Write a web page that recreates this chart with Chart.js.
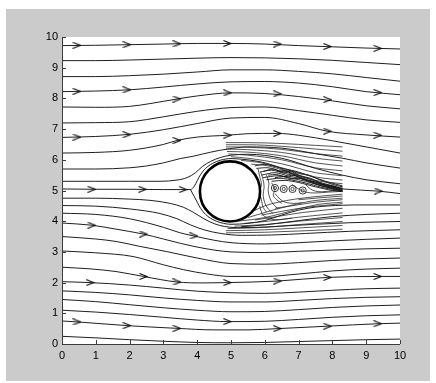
<!DOCTYPE html>
<html>
<head>
<meta charset="utf-8">
<script src="https://cdn.jsdelivr.net/npm/chart.js@4.4.1/dist/chart.umd.min.js"></script>
<style>
  html, body { margin: 0; padding: 0; background: #ffffff; }
  #panel { position: absolute; left: 6px; top: 9px; width: 424px; height: 372px; background: #cbcbcb; }
  #plot { position: absolute; left: 0; top: 0; }
</style>
</head>
<body>
<div id="panel"></div>
<canvas id="plot" width="436" height="383"></canvas>
<script>
// Axis ticks
const tickValues = [0, 1, 2, 3, 4, 5, 6, 7, 8, 9, 10];

// Cylinder (centre in data units, radius in x units)
const cylinderCenter = [4.97, 4.97];
const cylinderRadius = 0.89;

// Streamlines above the stagnation line, [x, y]
const L1 = [[0,9.72],[1,9.73],[2,9.75],[3,9.77],[4,9.79],[5,9.79],[6,9.77],[7,9.72],[8,9.68],[9,9.64],[10,9.61]];
const L2 = [[0,9.23],[1,9.23],[2,9.25],[3,9.28],[4,9.31],[5,9.33],[6,9.32],[7,9.29],[8,9.24],[9,9.17],[10,9.10]];
const L3 = [[0,8.71],[1,8.71],[2,8.74],[3,8.79],[4,8.86],[5,8.93],[6,8.93],[7,8.88],[8,8.80],[9,8.68],[10,8.56]];
const L4 = [[0,8.22],[1,8.24],[2,8.28],[3,8.37],[4,8.47],[5,8.54],[6,8.55],[7,8.50],[8,8.38],[9,8.22],[10,8.12]];
const L5 = [[0,7.72],[1,7.71],[2,7.74],[2.6,7.83],[3.4,7.98],[4,8.08],[5,8.18],[6,8.16],[7,8.06],[8,7.92],[9,7.76],[10,7.66]];
const L6 = [[0,7.20],[1,7.21],[2,7.24],[3,7.40],[4,7.58],[5,7.70],[6,7.72],[7,7.60],[8,7.45],[9,7.30],[10,7.22]];
const L7 = [[0,6.73],[1,6.76],[2,6.83],[3,6.98],[4,7.18],[5,7.36],[6,7.38],[7,7.18],[7.85,6.93],[9,6.81],[10,6.74]];
const L8 = [[0,6.22],[1,6.24],[2,6.31],[3,6.50],[3.4,6.63],[4,6.74],[4.89,6.80],[5.5,6.85],[6.37,6.86],[7,6.80],[8,6.62],[9,6.42],[10,6.22]];
const L9 = [[0,5.70],[1,5.70],[2,5.74],[2.5,5.80],[3,5.90],[3.5,6.04],[3.9,6.12],[4.4,6.25],[4.9,6.35],[5.5,6.42],[6.5,6.38],[7.5,6.20],[8.3,6.05],[9,5.90],[10,5.73]];
const L10 = [[0,5.30],[1,5.30],[2,5.30],[2.9,5.30],[3.4,5.34],[3.7,5.42],[3.95,5.58],[4.15,5.78],[4.4,5.95],[4.7,6.08],[5.0,6.15],[5.5,6.18],[6.5,6.05],[7.5,5.72],[8.3,5.50],[9,5.35],[10,5.22]];

// Stagnation streamline and its two branches round the cylinder
const stagnationUpper = [[0,5.05],[1,5.04],[2,5.04],[3,5.03],[3.5,5.03],[3.8,5.03],[3.92,5.15],[4.0,5.32],[4.1,5.52],[4.25,5.72],[4.45,5.88],[4.7,5.99],[5.0,6.04],[5.3,6.02],[5.8,5.95],[6.3,5.80],[6.8,5.55],[7.3,5.30],[7.8,5.12],[8.3,5.05],[9.36,4.98],[10,4.90]];
const stagnationLower = [[3.8,5.03],[3.92,4.79],[4.0,4.62],[4.1,4.42],[4.25,4.22],[4.45,4.06],[4.7,3.95],[5.0,3.90],[5.5,3.93],[6,4.02],[6.5,4.20],[7,4.36],[7.5,4.46],[8.3,4.52],[9,4.53],[10,4.53]];

// Streamlines below the stagnation line
const B1 = [[0,4.75],[1,4.75],[2,4.72],[2.6,4.68],[3.2,4.58],[3.6,4.45],[3.9,4.28],[4.2,4.08],[4.5,3.92],[4.8,3.83],[5.2,3.79],[5.8,3.80],[6.5,3.84],[7.5,3.90],[8.5,3.95],[10,3.99]];
const B2 = [[0,4.51],[1,4.49],[2,4.40],[2.9,4.25],[3.4,4.08],[3.8,3.88],[4.2,3.72],[4.7,3.60],[5.3,3.54],[6.2,3.55],[7.2,3.60],[8.5,3.67],[10,3.72]];
const B3 = [[0,4.26],[1,4.22],[2,4.08],[3,3.80],[3.5,3.62],[3.9,3.52],[4.5,3.38],[5,3.30],[6,3.26],[7,3.30],[8,3.36],[9,3.41],[10,3.45]];
const B4 = [[0,3.94],[0.88,3.87],[1.6,3.74],[2.41,3.58],[3,3.42],[3.5,3.28],[3.9,3.18],[4.5,3.06],[5,3.00],[6,2.98],[7,3.02],[8,3.06],[9,3.10],[10,3.12]];
const B5 = [[0,3.50],[1,3.42],[1.6,3.34],[2.3,3.18],[3.1,3.01],[4,2.80],[5,2.62],[6,2.60],[7,2.65],[8,2.72],[9,2.77],[10,2.80]];
const B6 = [[0,3.03],[1,2.97],[2.1,2.85],[3,2.58],[3.6,2.42],[4.3,2.28],[5,2.20],[6,2.20],[7,2.28],[8,2.38],[9,2.44],[10,2.47]];
const B7 = [[0,2.50],[0.8,2.45],[1.6,2.36],[2.41,2.20],[3.4,2.02],[4.2,1.99],[4.89,2.00],[6.37,2.05],[7.85,2.17],[9.34,2.20],[10,2.20]];
const B8 = [[0,2.03],[0.83,2.00],[2,1.92],[3,1.82],[4,1.72],[5,1.67],[6,1.65],[7,1.69],[8,1.75],[9,1.80],[10,1.82]];
const B9 = [[0,1.73],[1,1.68],[2,1.60],[3,1.50],[4,1.42],[5,1.37],[6,1.37],[7,1.42],[8,1.48],[9,1.52],[10,1.54]];
const B10 = [[0,1.45],[1,1.38],[2,1.28],[3,1.18],[4,1.10],[5,1.05],[6,1.06],[7,1.12],[8,1.19],[9,1.24],[10,1.27]];
const B11 = [[0,1.10],[1,1.04],[2,0.96],[3,0.87],[4,0.78],[4.89,0.73],[6,0.74],[7,0.80],[8,0.87],[9,0.92],[10,0.95]];
const B12 = [[0,0.75],[0.44,0.72],[1.92,0.60],[3.4,0.51],[4.5,0.46],[5.5,0.46],[6.37,0.50],[7.85,0.58],[9.34,0.66],[10,0.68]];
const B13 = [[0,0.25],[1,0.20],[2,0.14],[3,0.09],[4,0.05],[5,0.04],[6,0.05],[7,0.08],[8,0.11],[9,0.14],[10,0.16]];
const E1 = [[5.3,3.82],[6,3.88],[7,4.02],[8,4.15],[9,4.22],[10,4.26]];

// Wake field: upper sheet
const U1 = [[4.85,6.56],[5.5,6.56],[6.5,6.53],[7.5,6.47],[8.3,6.42]];
const U2 = [[4.85,6.49],[5.5,6.49],[6.5,6.44],[7.5,6.35],[8.3,6.28]];
const U3 = [[4.85,6.42],[5.5,6.41],[6.5,6.34],[7.5,6.20],[8.3,6.12]];
const U4 = [[4.85,6.35],[5.5,6.33],[6.5,6.24],[7.5,6.05],[8.3,5.96]];
const U5 = [[4.88,6.27],[5.5,6.25],[6.5,6.13],[7.5,5.90],[8.3,5.80]];
const U6 = [[4.92,6.19],[5.5,6.15],[6.5,6.00],[7.5,5.74],[8.3,5.64]];
const U7 = [[5.0,6.10],[5.5,6.05],[6.5,5.87],[7.5,5.58],[8.3,5.48]];
const U8 = [[5.3,5.98],[5.8,5.92],[6.5,5.74],[7.5,5.44],[8.3,5.34]];
const U9 = [[5.6,5.86],[6.1,5.80],[6.6,5.64],[7.5,5.33],[8.3,5.22]];
// Wake field: shear layer
const C1 = [[5.75,5.72],[6.1,5.74],[6.5,5.62],[6.9,5.52],[7.3,5.38],[7.7,5.24],[8.1,5.13]];
const C2 = [[5.85,5.60],[6.2,5.66],[6.6,5.55],[7.0,5.45],[7.4,5.30],[7.9,5.15],[8.3,5.08]];
const C3 = [[5.9,5.50],[6.3,5.58],[6.7,5.47],[7.1,5.38],[7.5,5.24],[8.0,5.10],[8.3,5.05]];
const C4 = [[5.95,5.42],[6.4,5.48],[6.8,5.40],[7.2,5.30],[7.6,5.18],[8.0,5.06],[8.3,5.02]];
const C5 = [[6.05,5.35],[6.45,5.40],[6.9,5.32],[7.3,5.22],[7.7,5.10],[8.3,4.98]];
const C6 = [[6.2,5.30],[6.6,5.33],[7.0,5.26],[7.5,5.12],[8.0,5.00],[8.3,4.96]];
const C7 = [[5.7,5.80],[6.0,5.85],[6.3,5.78],[6.6,5.70],[7.0,5.60],[7.4,5.45],[7.8,5.30],[8.3,5.15]];
const C8 = [[5.95,5.62],[6.25,5.70],[6.5,5.60],[6.75,5.62],[7.05,5.48],[7.35,5.40],[7.7,5.22],[8.2,5.10]];
const C9 = [[6.1,5.50],[6.35,5.52],[6.6,5.45],[6.85,5.50],[7.15,5.35],[7.5,5.28],[7.85,5.14],[8.3,5.06]];
const C10 = [[6.3,5.42],[6.55,5.45],[6.8,5.38],[7.1,5.40],[7.4,5.25],[7.8,5.12],[8.3,5.00]];
const C11 = [[6.4,5.62],[6.7,5.66],[7.0,5.55],[7.3,5.50],[7.6,5.36],[8.0,5.20],[8.3,5.12]];
// Wake field: lower sheet
const D1 = [[4.85,3.62],[6,3.64],[7,3.68],[8.3,3.74]];
const D2 = [[4.85,3.69],[6,3.72],[7,3.78],[8.3,3.86]];
const D3 = [[4.9,3.76],[6,3.80],[7,3.89],[8.3,3.99]];
const D4 = [[5.1,3.84],[6,3.89],[7,4.00],[8.3,4.12]];
const D5 = [[5.4,3.93],[6.1,4.00],[7,4.13],[8.3,4.27]];
const D6 = [[5.7,4.04],[6.3,4.14],[7.1,4.28],[8.3,4.42]];
const D7 = [[5.9,4.20],[6.5,4.32],[7.2,4.45],[8.3,4.57]];
const D8 = [[6.3,4.42],[6.9,4.52],[7.5,4.62],[8.3,4.70]];
const D9 = [[7.0,4.70],[7.6,4.76],[8.3,4.82]];
const F1 = [[5.2,4.00],[5.6,4.05],[6.0,4.12],[6.5,4.25],[7.0,4.40],[7.6,4.55],[8.3,4.62]];
const F2 = [[5.5,4.12],[5.9,4.25],[6.3,4.38],[6.8,4.52],[7.4,4.66],[8.3,4.75]];
const F3 = [[5.7,4.35],[6.0,4.50],[6.4,4.62],[6.9,4.72],[7.5,4.80],[8.3,4.88]];
// Recirculation behind the cylinder
const W1 = [[5.88,5.60],[5.95,5.35],[5.98,5.10],[5.95,4.85],[6.0,4.60],[6.1,4.40],[6.25,4.25]];
const W2 = [[6.05,5.50],[6.12,5.25],[6.1,5.00],[6.15,4.75],[6.25,4.55],[6.4,4.40]];
const W3 = [[6.3,4.90],[6.45,4.72],[6.6,4.62],[6.85,4.58],[7.1,4.60]];
const W4 = [[6.8,5.20],[7.0,5.05],[7.2,4.95],[7.5,4.92],[7.9,4.95],[8.3,4.97]];
const W5 = [[5.85,4.50],[5.9,4.30],[6.0,4.15],[6.3,4.05],[6.8,4.10]];
const W6 = [[5.8,5.70],[5.85,5.45],[5.9,5.20],[5.85,4.95],[5.9,4.70],[5.95,4.45],[6.05,4.30]];
const W7 = [[6.2,5.25],[6.3,5.05],[6.25,4.85],[6.35,4.70],[6.5,4.58]];
const W8 = [[7.2,5.20],[7.35,5.05],[7.5,4.98],[7.7,4.96],[8.0,4.99],[8.3,5.02]];
const vortexCenters = [[6.30,5.08],[6.56,5.05],[6.82,5.05],[7.12,5.00]];

// Direction arrows
const arrowPoints = [
  [0.44,9.73],[1.92,9.75],[3.40,9.78],[4.89,9.79],[6.37,9.77],[7.85,9.69],[9.34,9.63],
  [0.44,8.23],[1.92,8.28],[3.40,7.98],[4.89,8.18],[6.37,8.15],[7.85,7.96],[9.34,8.19],
  [0.44,6.74],[1.92,6.82],[3.40,6.63],[4.89,6.80],[6.37,6.86],[7.85,6.93],[9.34,6.80],
  [0.88,5.04],[2.38,5.04],[3.58,5.03],[9.36,4.98],
  [0.88,3.87],[2.41,3.58],[3.90,3.52],
  [0.83,2.00],[2.41,2.20],[3.40,2.02],[4.89,2.00],[6.37,2.05],[7.85,2.17],[9.34,2.20],
  [0.44,0.72],[1.92,0.60],[3.40,0.51],[4.89,0.73],[6.37,0.50],[7.85,0.58],[9.34,0.66]
];

const mainLines = [L1, L2, L3, L4, L5, L6, L7, L8, L9, L10, stagnationUpper, stagnationLower,
  B1, B2, B3, B4, B5, B6, B7, B8, B9, B10, B11, B12, B13, E1];
const wakeLines = [U1, U2, U3, U4, U5, U6, U7, U8, U9, D1, D2, D3, D4, D5, D6, D7, D8, D9, F1, F2, F3];
const shearLines = [C1, C2, C3, C4, C5, C6, C7, C8, C9, C10, C11];
const swirlLines = [W1, W2, W3, W4, W5, W6, W7, W8];

const toXY = pts => pts.map(([x, y]) => ({ x, y }));

function arrowGlyph() {
  const c = document.createElement('canvas');
  c.width = 9; c.height = 7;
  const g = c.getContext('2d');
  g.strokeStyle = '#101010';
  g.lineWidth = 1.1;
  g.beginPath();
  g.moveTo(0.5, 0.5);
  g.lineTo(8, 3.5);
  g.lineTo(0.5, 6.5);
  g.stroke();
  return c;
}

const datasets = [];
datasets.push({
  label: 'cylinder', order: -2,
  data: toXY([cylinderCenter]),
  showLine: false,
  pointRadius: ctx => {
    const sx = ctx.chart.scales.x;
    return Math.abs(sx.getPixelForValue(cylinderCenter[0] + cylinderRadius) - sx.getPixelForValue(cylinderCenter[0]));
  },
  pointBackgroundColor: '#ffffff',
  pointBorderColor: '#000000',
  pointBorderWidth: 2.6
});
datasets.push({
  label: 'arrows', order: -1,
  data: toXY(arrowPoints),
  showLine: false,
  pointStyle: arrowGlyph(),
  pointRadius: 4
});
mainLines.forEach((pts, i) => datasets.push({
  label: 'stream' + i, data: toXY(pts), showLine: true, pointRadius: 0,
  borderColor: '#202020', borderWidth: 1, cubicInterpolationMode: 'monotone'
}));
wakeLines.forEach((pts, i) => datasets.push({
  label: 'wake' + i, data: toXY(pts), showLine: true, pointRadius: 0,
  borderColor: '#2a2a2a', borderWidth: 0.8, cubicInterpolationMode: 'monotone'
}));
shearLines.forEach((pts, i) => datasets.push({
  label: 'shear' + i, data: toXY(pts), showLine: true, pointRadius: 0,
  borderColor: '#111111', borderWidth: 0.9, tension: 0.3
}));
swirlLines.forEach((pts, i) => datasets.push({
  label: 'swirl' + i, data: toXY(pts), showLine: true, pointRadius: 0,
  borderColor: '#2a2a2a', borderWidth: 0.8, tension: 0.35
}));
datasets.push({
  label: 'vortex', data: toXY(vortexCenters), showLine: false,
  pointRadius: 3.6, pointBorderWidth: 0.9, pointBorderColor: '#222', pointBackgroundColor: 'rgba(0,0,0,0)'
});
datasets.push({
  label: 'vortexCore', data: toXY(vortexCenters), showLine: false,
  pointRadius: 1.6, pointBorderWidth: 0.8, pointBorderColor: '#222', pointBackgroundColor: 'rgba(0,0,0,0)'
});

const axisColor = '#3c3c3c';
const framePlugin = {
  id: 'frame',
  beforeDraw(chart) {
    const { ctx, chartArea: a } = chart;
    ctx.save();
    ctx.fillStyle = '#ffffff';
    ctx.fillRect(a.left, a.top, a.right - a.left, a.bottom - a.top);
    ctx.restore();
  },
  afterDatasetsDraw(chart) {
    const { ctx, chartArea: a, scales } = chart;
    ctx.save();
    ctx.strokeStyle = axisColor;
    ctx.lineWidth = 1;
    ctx.beginPath();
    ctx.moveTo(a.left + 0.5, a.top);
    ctx.lineTo(a.left + 0.5, a.bottom + 0.5);
    ctx.lineTo(a.right, a.bottom + 0.5);
    scales.x.ticks.forEach(t => {
      const px = Math.round(scales.x.getPixelForValue(t.value)) + 0.5;
      ctx.moveTo(px, a.bottom);
      ctx.lineTo(px, a.bottom - 4);
    });
    scales.y.ticks.forEach(t => {
      const py = Math.round(scales.y.getPixelForValue(t.value)) + 0.5;
      ctx.moveTo(a.left, py);
      ctx.lineTo(a.left + 4, py);
    });
    ctx.stroke();
    ctx.restore();
  }
};

const tickFont = { family: "'Liberation Sans', Arial, sans-serif", size: 11 };

new Chart(document.getElementById('plot'), {
  type: 'scatter',
  data: { datasets },
  options: {
    responsive: false,
    animation: false,
    events: [],
    layout: { padding: { left: 0, top: 37, right: 36, bottom: 0 } },
    plugins: { legend: { display: false }, tooltip: { enabled: false } },
    scales: {
      x: {
        type: 'linear', min: 0, max: 10,
        afterBuildTicks: s => { s.ticks = tickValues.map(v => ({ value: v })); },
        afterFit: s => { s.height = 39; },
        grid: { display: false, drawTicks: false },
        border: { display: false },
        ticks: { padding: 5, color: '#000', font: tickFont, maxRotation: 0, autoSkip: false }
      },
      y: {
        type: 'linear', min: 0, max: 10,
        afterBuildTicks: s => { s.ticks = tickValues.map(v => ({ value: v })); },
        afterFit: s => { s.width = 62; },
        grid: { display: false, drawTicks: false },
        border: { display: false },
        ticks: { padding: 4, color: '#000', font: tickFont, autoSkip: false }
      }
    }
  },
  plugins: [framePlugin]
});
</script>
</body>
</html>
